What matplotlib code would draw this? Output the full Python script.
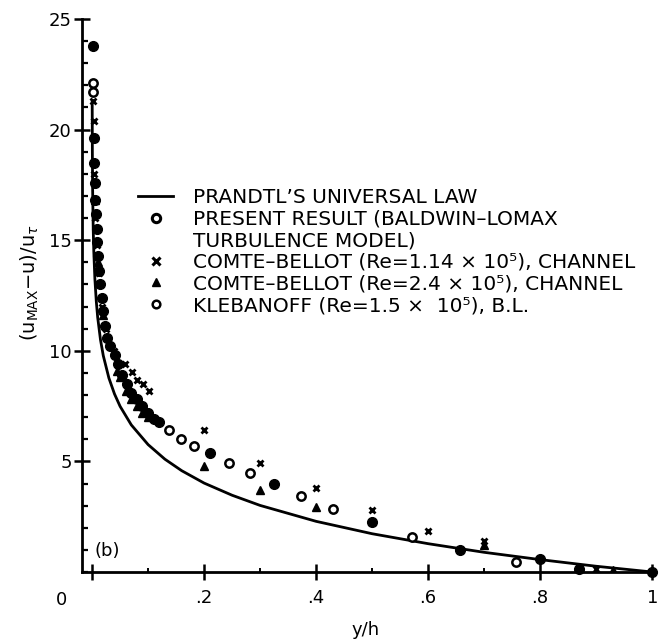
import matplotlib

matplotlib.use("Agg")
import matplotlib.pyplot as plt
from matplotlib.lines import Line2D
from matplotlib.ticker import MultipleLocator

plt.rcParams["font.family"] = ["DejaVu Sans"]
plt.rcParams["mathtext.fontset"] = "dejavusans"

# Prandtl's universal law (solid curve)
prandtl_x = [0.0002, 0.0005, 0.001, 0.002, 0.003, 0.005, 0.0075, 0.01, 0.015,
             0.02, 0.03, 0.04, 0.05, 0.07, 0.1, 0.13, 0.16, 0.2, 0.25, 0.3,
             0.4, 0.5, 0.6, 0.7, 0.8, 0.9, 1.0]
prandtl_y = [21.29, 19.0, 17.27, 15.54, 14.52, 13.25, 12.24, 11.51, 10.50,
             9.78, 8.77, 8.05, 7.49, 6.65, 5.76, 5.10, 4.58, 4.02, 3.47, 3.01,
             2.29, 1.73, 1.28, 0.89, 0.56, 0.26, 0.0]

# present result (Baldwin-Lomax)
present_x = [0.001, 0.003, 0.004, 0.005, 0.006, 0.007, 0.008, 0.009, 0.010,
             0.012, 0.014, 0.017, 0.020, 0.023, 0.027, 0.032, 0.041, 0.047,
             0.054, 0.062, 0.070, 0.080, 0.090, 0.100, 0.110, 0.120, 0.21,
             0.325, 0.50, 0.657, 0.80, 0.87, 1.0]
present_y = [23.8, 19.6, 18.5, 17.6, 16.8, 16.2, 15.5, 14.9, 14.3,
             13.6, 13.0, 12.4, 11.8, 11.1, 10.6, 10.2, 9.8, 9.4,
             8.9, 8.5, 8.1, 7.8, 7.5, 7.2, 6.9, 6.8, 5.4,
             3.96, 2.25, 0.99, 0.58, 0.14, 0.0]

# Comte-Bellot, Re = 1.14e5
cb1_x = [0.002, 0.003, 0.004, 0.006, 0.008, 0.012, 0.018, 0.025, 0.040,
         0.059, 0.071, 0.080, 0.091, 0.102, 0.2, 0.3, 0.4, 0.5, 0.6, 0.7, 0.9]
cb1_y = [21.3, 20.4, 18.0, 16.0, 14.8, 13.5, 12.0, 11.0, 10.0,
         9.4, 9.05, 8.7, 8.5, 8.2, 6.4, 4.95, 3.8, 2.8, 1.85, 1.4, 0.14]

# Comte-Bellot, Re = 2.4e5
cb2_x = [0.005, 0.010, 0.020, 0.030, 0.045, 0.050, 0.060, 0.070, 0.080,
         0.090, 0.100, 0.2, 0.3, 0.4, 0.5, 0.7, 0.93]
cb2_y = [16.8, 14.0, 11.6, 10.4, 9.1, 8.8, 8.2, 7.8, 7.5,
         7.2, 7.0, 4.8, 3.7, 2.93, 2.3, 1.2, 0.1]

# Klebanoff boundary layer, Re = 1.5e5
kleb_x = [0.0015, 0.0015, 0.1375, 0.159, 0.182, 0.245, 0.282, 0.373, 0.43,
          0.572, 0.757]
kleb_y = [22.1, 21.7, 6.4, 6.0, 5.7, 4.95, 4.46, 3.42, 2.84, 1.58, 0.45]

legend_labels = [
    "PRANDTL\u2019S UNIVERSAL LAW",
    "PRESENT RESULT (BALDWIN\u2013LOMAX",
    "TURBULENCE MODEL)",
    "COMTE\u2013BELLOT (Re=1.14 \u00d7 10\u2075), CHANNEL",
    "COMTE\u2013BELLOT (Re=2.4 \u00d7 10\u2075), CHANNEL",
    "KLEBANOFF (Re=1.5 \u00d7  10\u2075), B.L.",
]

x_ticks = [0, 0.2, 0.4, 0.6, 0.8, 1.0]
x_ticklabels = ["", ".2", ".4", ".6", ".8", "1"]
y_ticks = [5, 10, 15, 20, 25]


def main() -> None:
    W, H = 660, 642
    fig = plt.figure(figsize=(W / 100, H / 100), dpi=100)
    ax = fig.add_axes([82 / W, 1 - 572 / H, 573 / W, 553 / H])

    ax.plot(prandtl_x, prandtl_y, color="black", lw=2.0, zorder=2)
    ax.plot(present_x, present_y, ls="none", marker="o", ms=7,
            mfc="black", mec="black", zorder=3, clip_on=False)
    ax.plot(cb1_x, cb1_y, ls="none", marker="x", ms=4.5, mew=2.0,
            color="black", zorder=3)
    ax.plot(cb2_x, cb2_y, ls="none", marker="^", ms=5.5,
            color="black", zorder=3)
    ax.plot(kleb_x, kleb_y, ls="none", marker="o", ms=6, mfc="white",
            mec="black", mew=1.8, zorder=4)

    ax.set_xlim(-0.018, 1.005)
    ax.set_ylim(0, 25)

    for side in ("top", "right"):
        ax.spines[side].set_visible(False)
    for side in ("left", "bottom"):
        ax.spines[side].set_linewidth(2.0)

    ax.set_xticks(x_ticks)
    ax.set_xticklabels(x_ticklabels)
    ax.set_yticks(y_ticks)
    ax.xaxis.set_minor_locator(MultipleLocator(0.1))
    ax.yaxis.set_minor_locator(MultipleLocator(1))
    ax.tick_params(axis="both", which="major", direction="inout", length=11,
                   width=1.8, labelsize=13)
    ax.tick_params(axis="y", which="major", pad=2)
    ax.tick_params(axis="x", which="major", pad=7)
    ax.tick_params(axis="y", which="minor", direction="in", length=4.5,
                   width=1.6)
    ax.tick_params(axis="x", which="minor", direction="in", length=3,
                   width=1.4)

    # the origin label sits out at the corner
    fig.text(62 / W, 1 - 600 / H, "0", ha="center", va="center", fontsize=13)

    ax.set_xlabel("y/h", fontsize=13, va="center")
    ax.xaxis.set_label_coords((366 - 82) / 573, (572 - 630) / 553)
    ax.set_ylabel(r"(u$_{\mathsf{MAX}}$$-$u)/u$_{\tau}$", fontsize=14,
                  va="center")
    ax.yaxis.set_label_coords((30 - 82) / 573, (572 - 283) / 553)

    ax.text(0.044, 0.038, "(b)", transform=ax.transAxes, fontsize=13,
            ha="center", va="center")

    handles = [
        Line2D([], [], color="black", lw=2.0),
        Line2D([], [], ls="none", marker="o", ms=6, mfc="white",
               mec="black", mew=2.2),
        Line2D([], [], ls="none"),
        Line2D([], [], ls="none", marker="x", ms=6, mew=2.2, color="black"),
        Line2D([], [], ls="none", marker="^", ms=5.5, color="black"),
        Line2D([], [], ls="none", marker="o", ms=5.5, mfc="white",
               mec="black", mew=1.8),
    ]
    ax.legend(handles, legend_labels, loc="upper left",
              bbox_to_anchor=(138 / W, 1 - 188 / H),
              bbox_transform=fig.transFigure, frameon=False, fontsize=14.5,
              borderpad=0, borderaxespad=0, handlelength=1.75,
              handletextpad=1.0, labelspacing=0.13)

    fig.savefig("out.png", dpi=100)
    plt.close(fig)


if __name__ == "__main__":
    main()
